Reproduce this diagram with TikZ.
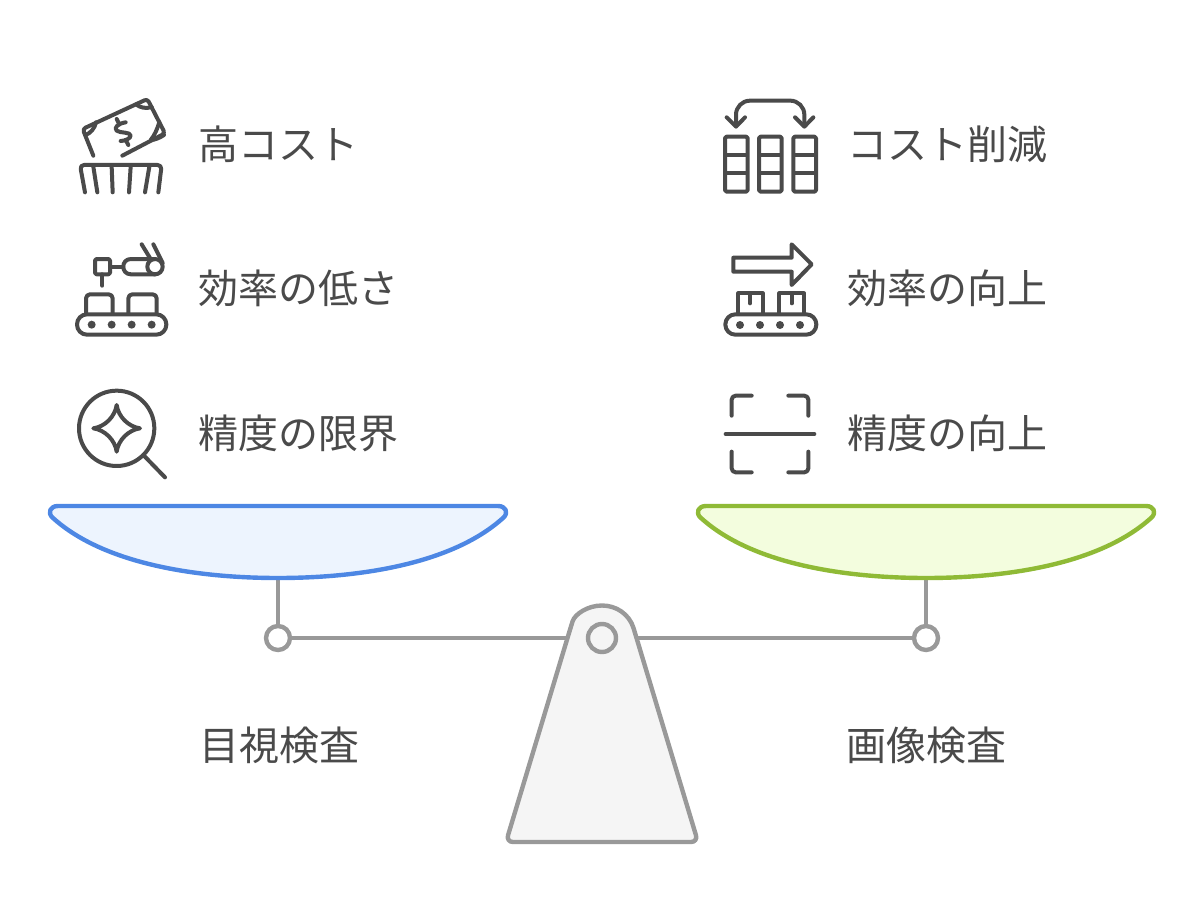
\documentclass[tikz,border=0pt]{standalone}
\usepackage{fontspec}
\usepackage{tikz}
\newfontfamily\cjk{Noto Sans CJK JP}
\definecolor{ink}{HTML}{4A4A4A}
\definecolor{beamgray}{HTML}{999999}
\definecolor{panblue}{HTML}{4D87E4}
\definecolor{panbluefill}{HTML}{EDF4FE}
\definecolor{pangreen}{HTML}{8FBA36}
\definecolor{pangreenfill}{HTML}{F3FDDE}
\definecolor{basefill}{HTML}{F5F5F5}
\tikzset{
  label/.style={font=\cjk\fontsize{40}{40}\selectfont, text=ink, inner sep=0pt},
  icon/.style={draw=ink, line width=4pt, line cap=round, line join=round},
  iconscale/.style={shift={#1}, scale=1/3},
  beam/.style={draw=beamgray, line width=4.4pt},
  pivot/.style={circle, draw=beamgray, line width=4.4pt, fill=white, inner sep=0pt, minimum size=24pt},
}
\begin{document}
\begin{tikzpicture}[x=1pt,y=-1pt]
    \useasboundingbox (0,0) rectangle (1204,920);

    % labels
    \node [label, anchor=west] (costl) at (198,144) {高コスト};
    \node [label, anchor=west] (effl) at (198,288) {効率の低さ};
    \node [label, anchor=west] (precl) at (198,433) {精度の限界};
    \node [label, anchor=west] (costr) at (847,144) {コスト削減};
    \node [label, anchor=west] (effr) at (847,288) {効率の向上};
    \node [label, anchor=west] (precr) at (847,433) {精度の向上};
    \node [label] (manual) at (279,745) {目視検査};
    \node [label] (image) at (926,745) {画像検査};

    % money over basket
    \begin{scope}[iconscale={(60,85)}]
      \path [icon, rounded corners=3pt] (100,212) -- (68,132) -- (262,42) -- (315,145) -- (187,212);
      \path [icon] (108,112) .. controls (104,130) and (92,145) .. (76,150);
      \path [icon] (228,58) .. controls (240,68) and (258,72) .. (275,66);
      \path [icon] (298,112) .. controls (292,130) and (285,150) .. (272,165) .. controls (285,165) and (300,158) .. (312,150);
      \path [icon] (170,102) -- (178,118);
      \path [icon] (197,165) -- (205,180);
      \path [icon] (197,112) .. controls (175,115) and (160,128) .. (170,137) .. controls (180,145) and (212,140) .. (212,152) .. controls (212,160) and (195,168) .. (182,168);
      \path [icon, rounded corners=4pt] (75,322) -- (60,240) -- (305,240) -- (295,322);
      \path [icon] (100,245) -- (112,322);
      \path [icon] (155,245) -- (158,322);
      \path [icon] (212,245) -- (207,322);
      \path [icon] (268,245) -- (255,322);
    \end{scope}

    % robot arm over conveyor
    \begin{scope}[iconscale={(60,235)}]
      \path [icon, rounded corners=1.5pt] (105,72) rectangle (150,118);
      \path [icon] (127,118) -- (127,152);
      \path [icon] (150,95) -- (190,95);
      \path [icon] (285,72) -- (213,72) .. controls (182,72) and (182,118) .. (213,118) -- (285,118);
      \path [icon] (285,95) circle [radius=23];
      \path [icon] (245,28) -- (273,74);
      \path [icon] (280,28) -- (308,84);
      \path [icon, rounded corners=4pt] (78,235) -- (78,178) -- (158,178) -- (158,235);
      \path [icon, rounded corners=4pt] (205,235) -- (205,178) -- (290,178) -- (290,235);
      \path [icon, rounded corners=10pt] (51,238) rectangle (319,299);
      \foreach \dotx in {95,155,215,275}
        \fill [ink] (\dotx,269) circle [radius=12];
    \end{scope}

    % magnifier with star
    \begin{scope}[iconscale={(60,380)}]
      \path [icon] (170,145) circle [radius=113];
      \path [icon] (250,225) -- (315,292);
      \path [icon] (170,75) .. controls (175,110) and (205,140) .. (240,145)
        .. controls (205,150) and (175,180) .. (170,215)
        .. controls (165,180) and (135,150) .. (100,145)
        .. controls (135,140) and (165,110) .. (170,75) -- cycle;
    \end{scope}

    % columns with swap arrow
    \begin{scope}[iconscale={(710,90)}]
      \foreach \colx in {45,147,250} {
        \path [icon, line cap=butt, rounded corners=1.5pt] (\colx,140) rectangle ++(68,165);
        \path [icon, line cap=butt] (\colx,195) -- ++(68,0);
        \path [icon, line cap=butt] (\colx,250) -- ++(68,0);
      }
      \path [icon, rounded corners=14pt] (78,108) -- (78,32) -- (283,32) -- (283,108);
      \path [icon] (50,82) -- (78,110) -- (105,82);
      \path [icon] (255,82) -- (283,110) -- (310,82);
    \end{scope}

    % arrow over conveyor
    \begin{scope}[iconscale={(710,235)}]
      \path [icon] (70,68) -- (245,68) -- (245,28) -- (305,88) -- (245,150) -- (245,110) -- (70,110) -- cycle;
      \path [icon] (85,232) -- (85,175) -- (158,175) -- (158,232);
      \path [icon] (208,232) -- (208,175) -- (282,175) -- (282,232);
      \path [icon] (120,175) -- (120,205);
      \path [icon] (245,175) -- (245,205);
      \path [icon, rounded corners=10pt] (46,238) rectangle (319,299);
      \foreach \dotx in {90,150,210,270}
        \fill [ink] (\dotx,270) circle [radius=12];
    \end{scope}

    % scan frame
    \begin{scope}[iconscale={(710,385)}]
      \path [icon, rounded corners=4pt] (65,92) -- (65,32) -- (125,32);
      \path [icon, rounded corners=4pt] (235,32) -- (295,32) -- (295,92);
      \path [icon, rounded corners=4pt] (65,200) -- (65,262) -- (125,262);
      \path [icon, rounded corners=4pt] (235,262) -- (295,262) -- (295,200);
      \path [icon] (47,147) -- (313,147);
    \end{scope}

    % scale
    \node [pivot] (pl) at (278,638) {};
    \node [pivot] (pr) at (926,638) {};
    \coordinate (pc) at (602,638);
    \coordinate (panl) at (278,578);
    \coordinate (panr) at (926,578);

    \draw [beam] (pl) -- (pc) -- (pr);
    \draw [beam] (panl) -- (pl);
    \draw [beam] (panr) -- (pr);

    \draw [draw=panblue, fill=panbluefill, line width=4.4pt, line join=round]
      (58,506) -- (498,506) .. controls (506,506) and (509,513) .. (503,518)
      .. controls (451,565) and (356,578) .. (278,578)
      .. controls (200,578) and (105,565) .. (53,518)
      .. controls (47,513) and (50,506) .. (58,506) -- cycle;
    \draw [draw=pangreen, fill=pangreenfill, line width=4.4pt, line join=round]
      (706,506) -- (1146,506) .. controls (1154,506) and (1157,513) .. (1151,518)
      .. controls (1099,565) and (1004,578) .. (926,578)
      .. controls (848,578) and (753,565) .. (701,518)
      .. controls (695,513) and (698,506) .. (706,506) -- cycle;

    \draw [beam, fill=basefill, line join=round]
      (570.5,628) .. controls (574.8,614.2) and (587.6,605.5) .. (602,605.5)
      .. controls (616.4,605.5) and (629.2,614.2) .. (633.5,628)
      [rounded corners=7pt] -- (698,842) -- (506,842) -- cycle;
    \node [pivot, fill=basefill, minimum size=28pt] (pin) at (pc) {};
\end{tikzpicture}
\end{document}
